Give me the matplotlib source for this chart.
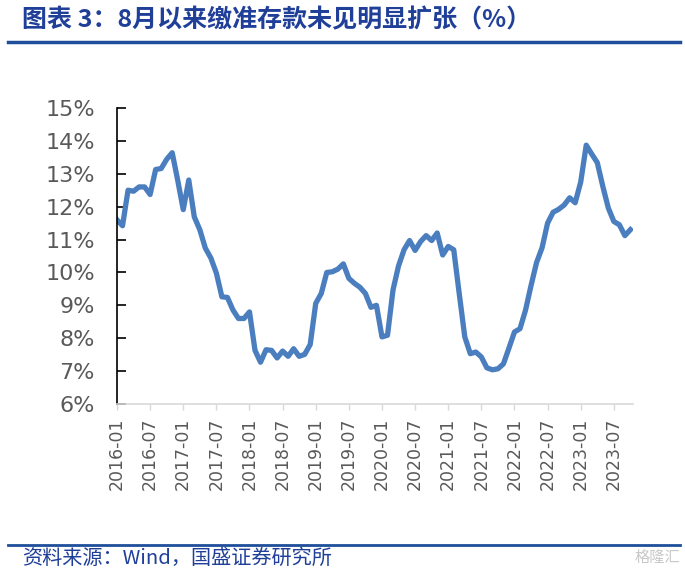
import matplotlib
matplotlib.use('Agg')
import matplotlib.pyplot as plt
from matplotlib.lines import Line2D
import numpy as np

# --- Data: monthly share, 2016-01 .. 2023-10 (%) ---
start_year, start_month = 2016, 1
values = [
    11.60, 11.42, 12.50, 12.47, 12.60, 12.60, 12.37, 13.13, 13.16, 13.44,
    13.64, 12.80, 11.91, 12.81, 11.69, 11.30, 10.74, 10.44, 9.98, 9.26,
    9.24, 8.86, 8.60, 8.60, 8.80, 7.63, 7.27, 7.65, 7.63, 7.40,
    7.61, 7.45, 7.68, 7.45, 7.51, 7.81, 9.06, 9.36, 10.00, 10.02,
    10.10, 10.26, 9.82, 9.67, 9.55, 9.36, 8.94, 9.00, 8.04, 8.09,
    9.47, 10.20, 10.69, 10.97, 10.67, 10.94, 11.12, 10.97, 11.20, 10.53,
    10.79, 10.69, 9.35, 8.04, 7.53, 7.58, 7.43, 7.10, 7.04, 7.07,
    7.22, 7.70, 8.19, 8.29, 8.85, 9.60, 10.30, 10.75, 11.50, 11.83,
    11.92, 12.05, 12.27, 12.12, 12.75, 13.87, 13.60, 13.34, 12.62, 11.96,
    11.55, 11.45, 11.12, 11.30,
]
y_ticks = [6, 7, 8, 9, 10, 11, 12, 13, 14, 15]

title = '图表 3：8月以来缴准存款未见明显扩张（%）'
source = '资料来源：Wind，国盛证券研究所'

# month labels
n = len(values)
labels = []
for i in range(n):
    yr = start_year + (start_month - 1 + i) // 12
    mo = (start_month - 1 + i) % 12 + 1
    labels.append(f"{yr}-{mo:02d}")
x = np.arange(n)
tick_idx = list(range(0, n, 6))

cjk = ['Noto Sans CJK SC', 'DejaVu Sans']
navy = '#1f3f99'
grey_txt = '#595959'

fig = plt.figure(figsize=(6.85, 5.69), dpi=100)
ax = fig.add_axes([117 / 685, 165 / 569, (632.6 - 117) / 685, (404 - 108) / 569])

ax.plot(x, values, color='#4a7ebf', linewidth=3.8, solid_joinstyle='round')

ax.set_xlim(0, 93.4)
ax.set_ylim(6, 15)

ax.set_yticks(y_ticks)
ax.set_yticklabels([f"{t}%" for t in y_ticks], fontsize=16, color=grey_txt)
ax.tick_params(axis='y', direction='in', length=6.5, width=1.2, color='black', pad=16)

ax.set_xticks(tick_idx)
ax.set_xticklabels([labels[i] for i in tick_idx], rotation=90, fontsize=12.5, color=grey_txt)
ax.tick_params(axis='x', direction='out', length=4.5, width=1.0, color='#d9d9d9', pad=5)

for s in ['top', 'right']:
    ax.spines[s].set_visible(False)
ax.spines['left'].set_color('black')
ax.spines['left'].set_linewidth(1.2)
ax.spines['bottom'].set_color('#d9d9d9')
ax.spines['bottom'].set_linewidth(1.2)

# header and footer
fig.text(22 / 685, 1 - 20 / 569, title, family=cjk, fontsize=18, fontweight='bold',
         fontstyle='italic', color=navy, va='center', ha='left')
fig.add_artist(Line2D([8 / 685, 680 / 685], [1 - 42 / 569] * 2, color='#1f4e9a', linewidth=2.5))
fig.add_artist(Line2D([8 / 685, 680 / 685], [1 - 545 / 569] * 2, color='#1f4e9a', linewidth=2.0))
fig.text(22 / 685, 1 - 558.5 / 569, source, family=cjk, fontsize=14.5, color=navy,
         fontstyle='italic', va='center', ha='left')
fig.text(680 / 685, 1 - 557 / 569, '格隆汇', family=cjk, fontsize=11, color='#c8c8c8',
         va='center', ha='right')

fig.savefig('out.png', dpi=100)
